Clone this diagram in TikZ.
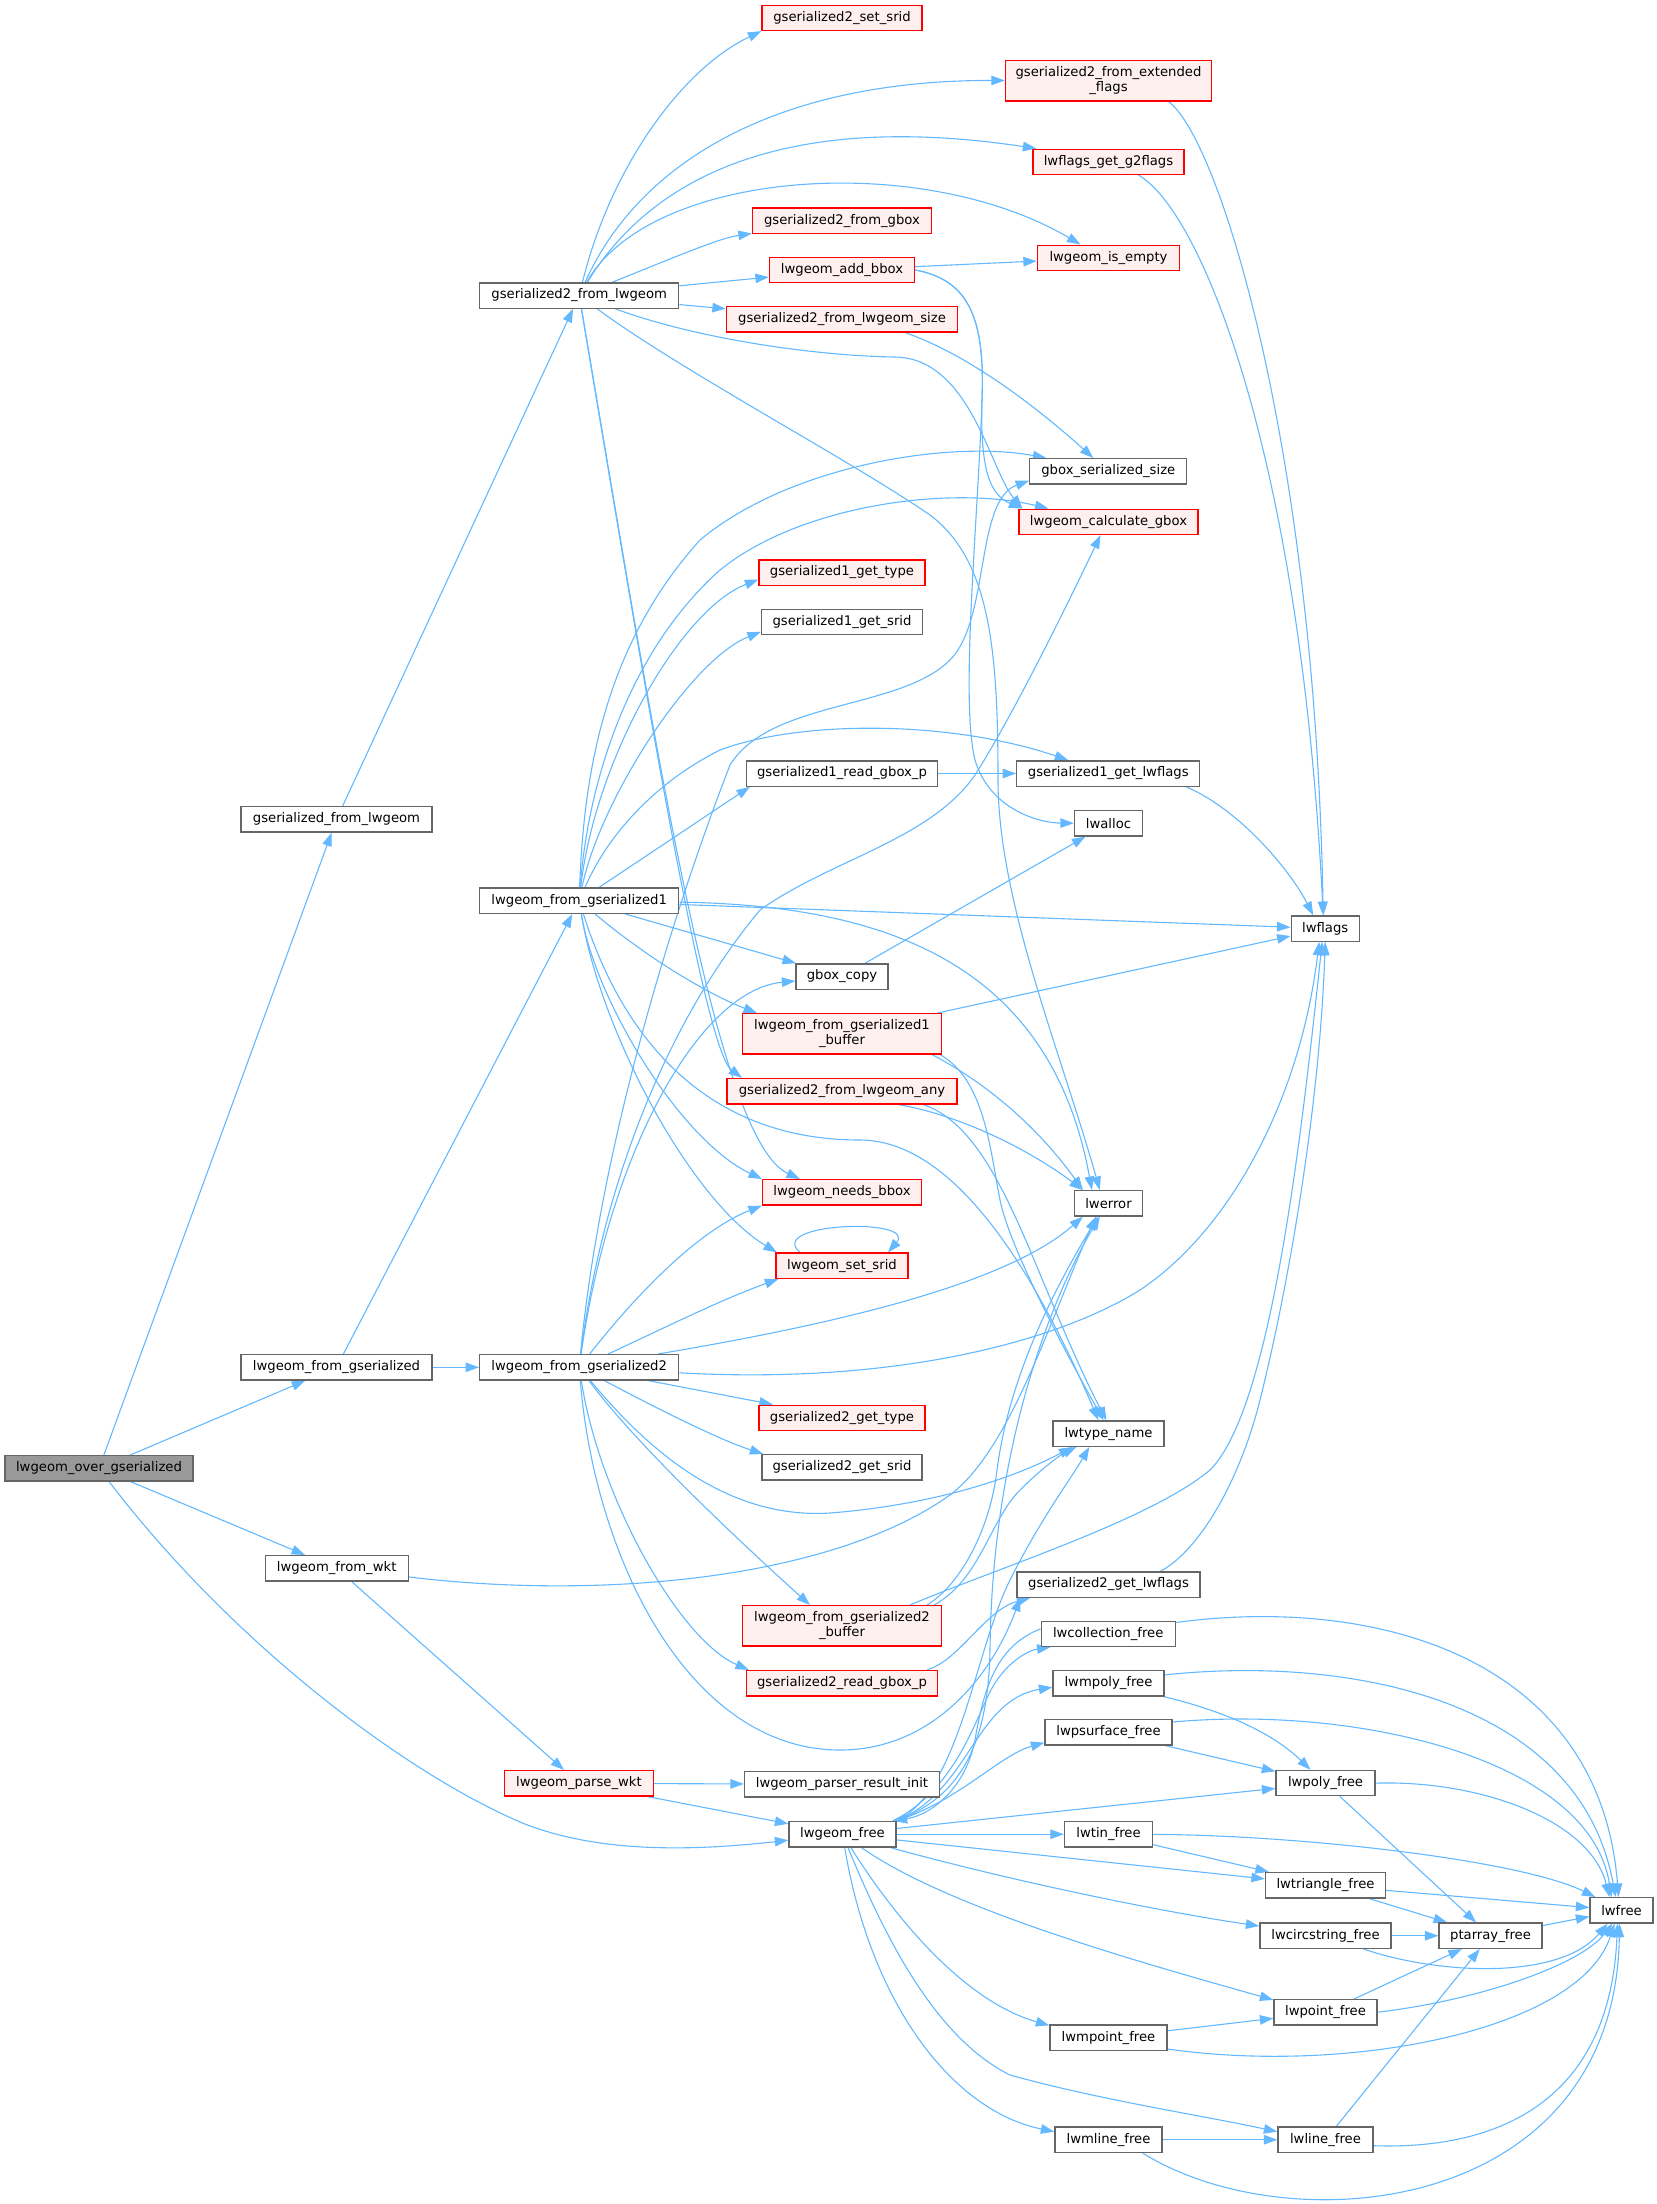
\documentclass[tikz,border=0pt]{standalone}
\usepackage{fontspec}
\usetikzlibrary{arrows.meta}
\newfontfamily\dxfam{DejaVu Sans}
\newcommand\dxfont{\dxfam\fontsize{13.2pt}{14.7pt}\selectfont}
\definecolor{edgec}{HTML}{63B8FF}
\definecolor{nodeb}{HTML}{666666}
\definecolor{redfill}{HTML}{FFF0F0}
\definecolor{rootfill}{HTML}{999999}
\pgfdeclarelayer{background}
\pgfsetlayers{background,main}
\tikzset{
 fn/.style={draw=nodeb, fill=white, line width=1.3pt, rectangle, inner sep=0pt, minimum height=25.3pt, font=\dxfont, text=black},
 rfn/.style={fn, draw=red, fill=redfill},
 root/.style={fn, fill=rootfill},
 two/.style={minimum height=40.3pt, align=center},
 e/.style={draw=edgec, line width=1.1pt, -{Triangle[length=13.5pt,width=9.5pt]}},
}
\begin{document}
\begin{tikzpicture}[x=1pt,y=-1pt]
\useasboundingbox (0,0) rectangle (1657,2204);
% nodes
\node[root, minimum width=188pt] (A) at (99,1468.3) {lwgeom\_over\_gserialized};
\node[fn, minimum width=191pt] (gfl) at (336.5,819.3) {gserialized\_from\_lwgeom};
\node[fn, minimum width=191pt] (lfg) at (336.5,1367.3) {lwgeom\_from\_gserialized};
\node[fn, minimum width=143pt] (wkt) at (336.7,1568.3) {lwgeom\_from\_wkt};
\node[fn, minimum width=199pt] (g2fl) at (579.2,295.5) {gserialized2\_from\_lwgeom};
\node[fn, minimum width=199pt] (lg1) at (579.2,900.7) {lwgeom\_from\_gserialized1};
\node[fn, minimum width=199pt] (lg2) at (579.2,1367.3) {lwgeom\_from\_gserialized2};
\node[rfn, minimum width=149pt] (pwkt) at (579,1783.3) {lwgeom\_parse\_wkt};
\node[rfn, minimum width=160pt] (setsrid2) at (842,17.8) {gserialized2\_set\_srid};
\node[rfn, minimum width=179pt] (fgbox) at (842,220.7) {gserialized2\_from\_gbox};
\node[rfn, minimum width=145pt] (addbbox) at (842,270) {lwgeom\_add\_bbox};
\node[rfn, minimum width=231pt] (fsize) at (842,319.3) {gserialized2\_from\_lwgeom\_size};
\node[rfn, minimum width=166pt] (g1type) at (842,572.5) {gserialized1\_get\_type};
\node[fn, minimum width=161pt] (g1srid) at (842,621.8) {gserialized1\_get\_srid};
\node[fn, minimum width=191pt] (g1rgb) at (842,773.5) {gserialized1\_read\_gbox\_p};
\node[fn, minimum width=92pt] (gcopy) at (842,976.5) {gbox\_copy};
\node[rfn, two, minimum width=199pt] (lg1buf) at (842,1033.8) {lwgeom\_from\_gserialized1\\\_buffer};
\node[rfn, minimum width=230pt] (fany) at (842,1091.2) {gserialized2\_from\_lwgeom\_any};
\node[rfn, minimum width=159pt] (needs) at (842,1192.3) {lwgeom\_needs\_bbox};
\node[rfn, minimum width=132pt] (lsrid) at (842,1265.7) {lwgeom\_set\_srid};
\node[rfn, minimum width=166pt] (g2type) at (842,1417.8) {gserialized2\_get\_type};
\node[fn, minimum width=160pt] (g2srid) at (842,1467.3) {gserialized2\_get\_srid};
\node[rfn, two, minimum width=199pt] (lg2buf) at (842,1625.8) {lwgeom\_from\_gserialized2\\\_buffer};
\node[rfn, minimum width=191pt] (g2rgb) at (842,1683.2) {gserialized2\_read\_gbox\_p};
\node[fn, minimum width=195pt] (pri) at (842,1784.3) {lwgeom\_parser\_result\_init};
\node[fn, minimum width=107pt] (lfree) at (842.5,1834.2) {lwgeom\_free};
\node[rfn, two, minimum width=206pt] (extf) at (1108.5,80.7) {gserialized2\_from\_extended\\\_flags};
\node[rfn, minimum width=151pt] (g2flags) at (1108.5,161.8) {lwflags\_get\_g2flags};
\node[rfn, minimum width=142pt] (isempty) at (1108.5,257.8) {lwgeom\_is\_empty};
\node[fn, minimum width=157pt] (gss) at (1108.3,471.3) {gbox\_serialized\_size};
\node[rfn, minimum width=179pt] (calc) at (1108.5,521.8) {lwgeom\_calculate\_gbox};
\node[fn, minimum width=183pt] (g1lwf) at (1108.3,773.5) {gserialized1\_get\_lwflags};
\node[fn, minimum width=68pt] (lwalloc) at (1108.5,823.3) {lwalloc};
\node[fn, minimum width=68pt] (lwerror) at (1108.5,1203.3) {lwerror};
\node[fn, minimum width=111pt] (ltn) at (1108.5,1433.7) {lwtype\_name};
\node[fn, minimum width=183pt] (g2lwf) at (1108.5,1584.5) {gserialized2\_get\_lwflags};
\node[fn, minimum width=134pt] (coll) at (1108.2,1633.8) {lwcollection\_free};
\node[fn, minimum width=111pt] (mpoly) at (1108.5,1683.2) {lwmpoly\_free};
\node[fn, minimum width=127pt] (psurf) at (1108.5,1732.3) {lwpsurface\_free};
\node[fn, minimum width=88pt] (tin) at (1108.5,1834.2) {lwtin\_free};
\node[fn, minimum width=117pt] (mpoint) at (1108.5,2037.7) {lwmpoint\_free};
\node[fn, minimum width=107pt] (mline) at (1108.5,2139.7) {lwmline\_free};
\node[fn, minimum width=68pt] (lwflags) at (1325.2,928.5) {lwflags};
\node[fn, minimum width=99pt] (poly) at (1325.5,1783.1) {lwpoly\_free};
\node[fn, minimum width=120pt] (tri) at (1325.5,1885.2) {lwtriangle\_free};
\node[fn, minimum width=131pt] (circ) at (1325.5,1935.7) {lwcircstring\_free};
\node[fn, minimum width=103pt] (point) at (1325.5,2012.2) {lwpoint\_free};
\node[fn, minimum width=95pt] (line) at (1325.5,2139.7) {lwline\_free};
\node[fn, minimum width=103pt] (ptarray) at (1490.5,1935.7) {ptarray\_free};
\node[fn, minimum width=63pt] (lwfree) at (1621.5,1910.3) {lwfree};
% edges
\begin{pgfonlayer}{background}
% root
\draw[e] (A) -- (gfl);
\draw[e] (A) -- (lfg);
\draw[e] (A) -- (wkt);
\draw[e] (A) .. controls (230,1640) and (400,1770) .. (520,1822) .. controls (600,1855) and (700,1850) .. (lfree);
\draw[e] (gfl) -- (g2fl);
\draw[e] (lfg) -- (lg1);
\draw[e] (lfg) -- (lg2);
\draw[e] (wkt) -- (pwkt);
\draw[e] (wkt) .. controls (600,1600) and (830,1580) .. (950,1495) .. controls (1010,1450) and (1050,1320) .. ([xshift=22pt]lwerror.south west);
% gserialized2_from_lwgeom
\draw[e] (g2fl) .. controls (610,170) and (680,70) .. (setsrid2.south west);
\draw[e] (g2fl) .. controls (640,160) and (780,80) .. (extf);
\draw[e] (g2fl) .. controls (650,180) and (780,110) .. ([xshift=4pt]g2flags.north west);
\draw[e] (g2fl) .. controls (650,170) and (920,150) .. ([xshift=-28pt]isempty.north);
\draw[e] (g2fl) .. controls (680,255) and (720,238) .. (fgbox);
\draw[e] (g2fl) -- (addbbox);
\draw[e] (g2fl) -- (fsize);
\draw[e] (g2fl) .. controls (700,340) and (820,356) .. (895,357) .. controls (970,358) and (990,470) .. ([xshift=4pt]calc.north west);
\draw[e] (g2fl) .. controls (680,370) and (850,460) .. (930,515) .. controls (990,560) and (998,650) .. (998,780) .. controls (998,900) and (1060,1050) .. ([xshift=26pt]lwerror.north west);
\draw[e] (g2fl) .. controls (648,708) and (705,1050) .. ([xshift=-100pt]fany.north);
\draw[e] (g2fl) .. controls (655,740) and (715,1140) .. ([xshift=-42pt]needs.north);
% lwgeom_add_bbox, size
\draw[e] (addbbox) -- (isempty);
\draw[e] (addbbox.east) .. controls (970,280) and (985,320) .. (982,400) .. controls (980,470) and (990,495) .. ([xshift=4pt]calc.north west);
\draw[e] (addbbox.east) .. controls (970,280) and (985,320) .. (982,400) .. controls (978,520) and (960,700) .. (975,760) .. controls (990,810) and (1040,823) .. (lwalloc);
\draw[e] ([xshift=63pt]fsize.south) .. controls (970,355) and (1040,410) .. ([xshift=-15pt]gss.north);
\draw[e] ([xshift=60pt]extf.south) .. controls (1220,140) and (1315,450) .. ([xshift=-2pt]lwflags.north);
\draw[e] ([xshift=30pt]g2flags.south) .. controls (1200,210) and (1300,450) .. ([xshift=-2pt]lwflags.north);
% lwgeom_from_gserialized1
\draw[e] (lg1) .. controls (584,760) and (610,640) .. (700,540) .. controls (790,465) and (950,440) .. ([xshift=-62pt]gss.north);
\draw[e] (lg1) .. controls (588,780) and (630,650) .. (720,570) .. controls (800,505) and (950,485) .. ([xshift=-60pt]calc.north);
\draw[e] (lg1) .. controls (595,760) and (680,610) .. ([yshift=-7pt]g1type.west);
\draw[e] (lg1) .. controls (600,800) and (690,660) .. ([yshift=-10pt]g1srid.west);
\draw[e] (lg1) .. controls (610,830) and (660,780) .. (720,750) .. controls (800,720) and (950,720) .. ([xshift=-40pt]g1lwf.north);
\draw[e] (lg1) -- ([xshift=4pt]g1rgb.south west);
\draw[e] (lg1) -- (lwflags);
\draw[e] (lg1) .. controls (880,905) and (1050,960) .. ([xshift=18pt]lwerror.north west);
\draw[e] (lg1) -- (gcopy);
\draw[e] (lg1) .. controls (650,960) and (710,995) .. ([xshift=-85pt]lg1buf.north);
\draw[e] (lg1) .. controls (595,1000) and (680,1140) .. ([xshift=-80pt]needs.north);
\draw[e] (lg1) .. controls (600,1030) and (690,1200) .. ([xshift=-65pt]lsrid.north);
\draw[e] (lg1) .. controls (620,1030) and (700,1140) .. (860,1140) .. controls (950,1140) and (1030,1260) .. ([xshift=-10pt]ltn.north);
% lwgeom_from_gserialized2
\draw[e] (lg2) .. controls (600,1150) and (670,920) .. (730,765) .. controls (770,700) and (900,710) .. (950,660) .. controls (990,620) and (975,500) .. ([yshift=4pt]gss.south west);
\draw[e] (lg2) .. controls (600,1200) and (660,1030) .. (760,910) .. controls (830,860) and (930,840) .. (975,775) .. controls (1010,720) and (1060,620) .. ([xshift=-8pt]calc.south);
\draw[e] (lg2) .. controls (610,1150) and (700,990) .. (gcopy);
\draw[e] (lg2) .. controls (640,1290) and (700,1230) .. (needs.south west);
\draw[e] (lg2) .. controls (660,1330) and (720,1300) .. ([xshift=3pt]lsrid.south west);
\draw[e] (lg2) .. controls (800,1330) and (1000,1290) .. ([xshift=9pt]lwerror.south west);
\draw[e] (lg2) .. controls (900,1385) and (1060,1340) .. (1140,1290) .. controls (1230,1230) and (1300,1100) .. ([xshift=-6pt]lwflags.south);
\draw[e] (lg2) -- (g2type);
\draw[e] (lg2) .. controls (660,1410) and (720,1440) .. ([xshift=2pt]g2srid.north west);
\draw[e] (lg2) .. controls (640,1440) and (720,1520) .. (830,1513) .. controls (930,1505) and (1010,1480) .. ([xshift=20pt]ltn.south west);
\draw[e] (lg2) .. controls (640,1450) and (760,1560) .. ([xshift=-32pt]lg2buf.north);
\draw[e] (lg2) .. controls (600,1500) and (680,1640) .. ([xshift=3pt]g2rgb.north west);
\draw[e] (lg2) .. controls (595,1560) and (690,1750) .. (840,1750) .. controls (930,1750) and (990,1680) .. ([xshift=4pt]g2lwf.south west);
% middle column callers
\draw[e] (g1rgb) -- (g1lwf);
\draw[e] ([xshift=78pt]g1lwf.south) .. controls (1240,810) and (1290,870) .. ([xshift=-12pt]lwflags.north);
\draw[e] (gcopy) -- (lwalloc);
\draw[e] (lg1buf) -- (lwflags);
\draw[e] ([xshift=90pt]lg1buf.south) .. controls (990,1085) and (1040,1130) .. ([xshift=9pt]lwerror.north west);
\draw[e] ([xshift=98pt]lg1buf.south) .. controls (985,1080) and (990,1150) .. (1000,1200) .. controls (1010,1250) and (1070,1360) .. ([xshift=-5pt]ltn.north);
\draw[e] ([xshift=56pt]fany.south) .. controls (960,1115) and (1030,1150) .. ([xshift=9pt]lwerror.north west);
\draw[e] ([xshift=81pt]fany.south) .. controls (970,1120) and (1000,1180) .. (1030,1250) .. controls (1055,1310) and (1080,1370) .. ([xshift=-2pt]ltn.north);
\draw[e] ([xshift=-42pt]lsrid.north) .. controls +(-35,-30) and +(30,-35) .. ([xshift=46pt]lsrid.north);
\draw[e] ([xshift=85pt]lg2buf.north) .. controls (960,1585) and (990,1530) .. (997,1470) .. controls (1010,1370) and (1060,1280) .. ([xshift=24pt]lwerror.south west);
\draw[e] ([xshift=92pt]lg2buf.north) .. controls (980,1580) and (990,1520) .. (1020,1490) .. controls (1040,1470) and (1060,1455) .. ([xshift=24pt]ltn.south west);
\draw[e] ([xshift=68pt]lg2buf.north) .. controls (1000,1567) and (1150,1520) .. (1210,1470) .. controls (1270,1410) and (1300,1150) .. ([xshift=-3pt]lwflags.south);
\draw[e] ([xshift=85pt]g2rgb.north) .. controls (960,1660) and (985,1610) .. ([xshift=14pt]g2lwf.south west);
\draw[e] ([xshift=52pt]g2lwf.north) .. controls (1200,1550) and (1240,1480) .. (1260,1400) .. controls (1290,1280) and (1320,1100) .. (lwflags.south);
\draw[e] (pwkt) -- (pri);
\draw[e] (pwkt) -- (lfree);
% lwgeom_free
\draw[e] ([xshift=-4pt]lfree.north east) .. controls (955,1790) and (975,1720) .. (992,1688) .. controls (1008,1660) and (1030,1650) .. ([xshift=10pt]coll.south west);
\draw[e] ([yshift=5pt]coll.west) .. controls (1000,1645) and (985,1680) .. (975,1740) .. controls (965,1790) and (930,1815) .. ([xshift=-3pt]lfree.north east);
\draw[e] (lfree.north east) .. controls (970,1790) and (975,1700) .. ([yshift=-4pt]mpoly.west);
\draw[e] (lfree.north east) .. controls (960,1800) and (1000,1755) .. ([yshift=3pt]psurf.south west);
\draw[e] (lfree.north east) .. controls (950,1800) and (988,1760) .. (990,1650) .. controls (992,1450) and (1050,1300) .. ([xshift=26pt]lwerror.south west);
\draw[e] (lfree.north east) .. controls (960,1790) and (975,1650) .. (1010,1580) .. controls (1040,1520) and (1070,1480) .. ([xshift=37pt]ltn.south west);
\draw[e] (lfree) -- (poly);
\draw[e] (lfree) -- (tin);
\draw[e] (lfree) -- (tri);
\draw[e] (lfree) .. controls (1000,1878) and (1150,1910) .. (circ);
\draw[e] (lfree) .. controls (950,1910) and (1150,1965) .. ([yshift=-1pt]point.north west);
\draw[e] (lfree) .. controls (890,1910) and (960,2000) .. ([yshift=-1pt]mpoint.north west);
\draw[e] (lfree) .. controls (890,1950) and (940,2040) .. (1010,2075) .. controls (1100,2100) and (1200,2115) .. ([yshift=8pt]line.west);
\draw[e] (lfree) .. controls (870,2000) and (950,2110) .. ([yshift=8pt]mline.west);
% free functions
\draw[e] ([yshift=-2pt]coll.north east) .. controls (1380,1595) and (1600,1660) .. ([xshift=-3pt]lwfree.north);
\draw[e] ([yshift=-5pt]mpoly.north east) .. controls (1350,1655) and (1580,1700) .. ([xshift=-6pt]lwfree.north);
\draw[e] (mpoly) .. controls (1240,1715) and (1280,1740) .. ([xshift=-15pt]poly.north);
\draw[e] ([yshift=-3pt]psurf.north east) .. controls (1360,1705) and (1590,1760) .. ([xshift=-10pt]lwfree.north);
\draw[e] (psurf) -- (poly);
\draw[e] (poly.east) .. controls (1480,1780) and (1590,1820) .. ([xshift=-12pt]lwfree.north);
\draw[e] (poly) -- (ptarray);
\draw[e] (tin) .. controls (1300,1835) and (1520,1860) .. ([xshift=6pt]lwfree.north west);
\draw[e] (tin) -- (tri);
\draw[e] (tri) -- (lwfree);
\draw[e] (tri) -- (ptarray);
\draw[e] (circ) -- (ptarray);
\draw[e] ([xshift=38pt]circ.south) .. controls (1440,1975) and (1560,1980) .. ([xshift=-14pt]lwfree.south);
\draw[e] (ptarray) -- (lwfree);
\draw[e] (point) -- (ptarray);
\draw[e] (point.east) .. controls (1480,2000) and (1580,1965) .. ([xshift=-9pt]lwfree.south);
\draw[e] (mpoint) -- (point);
\draw[e] ([yshift=2pt]mpoint.south east) .. controls (1350,2075) and (1580,2030) .. ([xshift=-7pt]lwfree.south);
\draw[e] (mline) -- (line);
\draw[e] ([xshift=-20pt]mline.south east) .. controls (1290,2245) and (1615,2215) .. ([xshift=-2pt]lwfree.south);
\draw[e] (line) -- (ptarray);
\draw[e] ([yshift=-6pt]line.east) .. controls (1500,2150) and (1610,2100) .. ([xshift=-4pt]lwfree.south);
\end{pgfonlayer}
\end{tikzpicture}
\end{document}
